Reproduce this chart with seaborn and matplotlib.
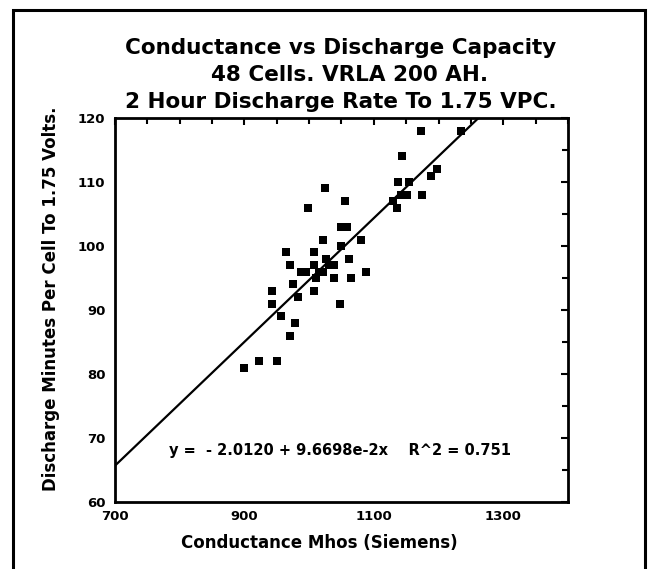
import numpy as np
import pandas as pd
import seaborn as sns
import matplotlib.pyplot as plt
from matplotlib.patches import Rectangle
from matplotlib.ticker import MultipleLocator

# Data
conductance = [900, 922, 950, 970, 978, 956, 943, 943, 983, 975,
               1007, 1010, 988, 995, 970, 965, 1007, 1007, 1021, 1026,
               1031, 1039, 1021, 1039, 1048, 1049, 1050, 1058, 1055, 1024,
               999, 1062, 1065, 1080, 1088, 1129, 1136, 1138, 1155, 1142,
               1152, 1175, 1143, 1173, 1188, 1198, 1234, 1016]
minutes = [81, 82, 82, 86, 88, 89, 91, 93, 92, 94,
           93, 95, 96, 96, 97, 99, 99, 97, 96, 98,
           97, 97, 101, 95, 91, 100, 103, 103, 107, 109,
           106, 98, 95, 101, 96, 107, 106, 110, 110, 108,
           108, 108, 114, 118, 111, 112, 118, 96]

intercept = -2.0120
slope = 9.6698e-2
r2 = 0.751

df = pd.DataFrame({"Conductance": conductance, "Minutes": minutes})

sns.set_style("white")
plt.rcParams['font.family'] = ['DejaVu Sans']
plt.rcParams['font.weight'] = 'bold'
plt.rcParams['text.color'] = 'black'
plt.rcParams['axes.labelcolor'] = 'black'
plt.rcParams['xtick.color'] = 'black'
plt.rcParams['ytick.color'] = 'black'

fig = plt.figure(figsize=(6.48, 5.69), dpi=100)
ax = fig.add_axes([0.1775, 0.1178, 0.699, 0.6749])

sns.scatterplot(data=df, x="Conductance", y="Minutes", marker="s", s=38,
                color="black", edgecolor="black", linewidth=0, ax=ax)
ax.axline((0, intercept), slope=slope, color="black", linewidth=1.6)

ax.set_xlim(700, 1400)
ax.set_ylim(60, 120)
ax.xaxis.set_major_locator(MultipleLocator(200, offset=100))
ax.xaxis.set_minor_locator(MultipleLocator(50))
ax.yaxis.set_major_locator(MultipleLocator(10))
ax.yaxis.set_minor_locator(MultipleLocator(5))
ax.tick_params(which="both", direction="in", top=True, right=True,
               color="black", width=1.5)
ax.tick_params(which="major", length=5, labelsize=9.5)
ax.tick_params(axis="x", which="major", pad=6)
ax.tick_params(axis="y", which="major", pad=7)
ax.tick_params(which="minor", length=4)
for sp in ax.spines.values():
    sp.set_color("black")
    sp.set_linewidth(2.0)

ax.set_xlabel("Conductance Mhos (Siemens)", fontsize=12, fontweight="bold")
ax.set_ylabel("Discharge Minutes Per Cell To 1.75 Volts.", fontsize=12,
              fontweight="bold")
ax.xaxis.set_label_coords(0.452, -0.083)
ax.yaxis.set_label_coords(-0.121, 0.529)

ax.text(783, 68, f"y =  - 2.0120 + 9.6698e-2x    R^2 = {r2}",
        fontsize=10.5, fontweight="bold", va="center")

fig.text(0.525, 0.9156, "Conductance vs Discharge Capacity", ha="center",
         va="center", fontsize=15.5, fontweight="bold")
fig.text(0.540, 0.868, "48 Cells. VRLA 200 AH.", ha="center",
         va="center", fontsize=15.5, fontweight="bold")
fig.text(0.526, 0.8207, "2 Hour Discharge Rate To 1.75 VPC.", ha="center",
         va="center", fontsize=15.5, fontweight="bold")

# outer frame of the scanned figure
fig.patches.append(Rectangle((13 / 648, -0.05), 632 / 648, 1.05 - 10 / 569,
                             transform=fig.transFigure, fill=False,
                             edgecolor="black", linewidth=2.2, clip_on=False))

fig.savefig("out.png", dpi=100)
